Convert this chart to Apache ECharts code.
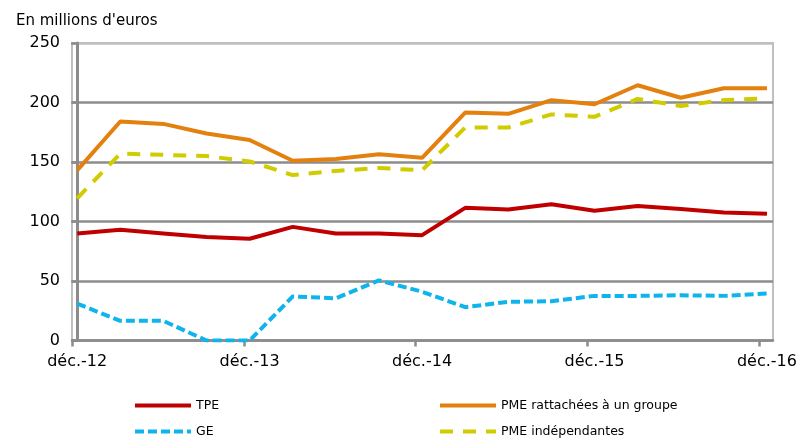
<!DOCTYPE html>
<html>
<head>
<meta charset="utf-8">
<script src="https://cdn.jsdelivr.net/npm/echarts@6/dist/echarts.min.js"></script>
<style>
  html, body { margin: 0; padding: 0; background: #fff; }
  #chart { width: 800px; height: 439px; }
</style>
</head>
<body>
<div id="chart"></div>
<script>
const chart = echarts.init(document.getElementById('chart'));

// quarterly points, déc.-12 .. déc.-16
const quarters = [0, 1, 2, 3, 4, 5, 6, 7, 8, 9, 10, 11, 12, 13, 14, 15, 16];
const yearLabels = ['déc.-12', 'déc.-13', 'déc.-14', 'déc.-15', 'déc.-16'];
const labelAt = [0, 4, 8, 12, 16];
const tickAt = [-0.12, 3.87, 7.85, 11.83, 15.82];

const tpe = [90, 93, 90, 87, 85.5, 95.5, 90, 90, 88.5, 111.5, 110, 114.5, 109, 113, 110.5, 107.5, 106.5];
const pmeGroupe = [143, 184, 182, 174, 168.5, 151, 152.5, 156.5, 153.5, 191.5, 190.5, 202, 198.5, 214.5, 204, 212, 212];
const ge = [31, 16.5, 16.5, 0, 0, 37, 35.5, 50.5, 41, 28, 32.5, 33, 37.5, 37.5, 38, 37.5, 39.5];
const pmeIndep = [119.5, 157, 156, 155, 150.5, 139, 142.5, 145, 143, 179, 179, 190, 188, 203, 197, 202, 203.5];

const pair = arr => arr.map((v, i) => [quarters[i], v]);
const font = 'DejaVu Sans';

// one legend per item so they sit in a 2x2 layout like the original
function legendItem(name, left, top) {
  return {
    left: left, top: top, padding: 0,
    itemWidth: 56, itemHeight: 14, itemGap: 0,
    itemStyle: { opacity: 0 },
    lineStyle: { width: 4 },
    textStyle: { fontFamily: font, fontSize: 12.5, color: '#000' },
    data: [name]
  };
}

chart.setOption({
  animation: false,
  title: {
    text: "En millions d'euros",
    left: 11, top: 9,
    textStyle: { fontFamily: font, fontSize: 15, fontWeight: 'normal', color: '#000' }
  },
  grid: {
    left: 72, right: 27, top: 43, bottom: 98.5,
    show: true, borderColor: '#c0c0c0', borderWidth: 2
  },
  legend: [
    legendItem('TPE', 133, 399),
    legendItem('GE', 133, 425),
    legendItem('PME rattachées à un groupe', 438, 399),
    legendItem('PME indépendantes', 438, 425)
  ],
  xAxis: {
    type: 'value',
    min: -0.12, max: 16.14,
    axisLine: { lineStyle: { color: '#8c8c8c', width: 2.5 } },
    axisTick: { show: true, customValues: tickAt, length: 6, lineStyle: { color: '#8c8c8c', width: 2.5 } },
    axisLabel: {
      customValues: labelAt, margin: 13,
      fontFamily: font, fontSize: 16, color: '#000',
      formatter: v => yearLabels[labelAt.indexOf(Math.round(v))] || ''
    },
    splitLine: { show: false }
  },
  yAxis: {
    type: 'value',
    min: 0, max: 250, interval: 50,
    axisLine: { show: true, lineStyle: { color: '#8c8c8c', width: 3 } },
    axisTick: { show: true, length: 6, lineStyle: { color: '#8c8c8c', width: 2.5 } },
    axisLabel: { margin: 12, fontFamily: font, fontSize: 16, color: '#000' },
    splitLine: { lineStyle: { color: ['#8c8c8c', '#8c8c8c', '#8c8c8c', '#8c8c8c', '#8c8c8c', '#c0c0c0'], width: 2.5 } }
  },
  series: [
    {
      name: 'TPE', type: 'line', symbol: 'none', data: pair(tpe),
      lineStyle: { color: '#c00000', width: 4 }, itemStyle: { color: '#c00000' }
    },
    {
      name: 'PME rattachées à un groupe', type: 'line', symbol: 'none', data: pair(pmeGroupe),
      lineStyle: { color: '#e3800e', width: 4 }, itemStyle: { color: '#e3800e' }
    },
    {
      name: 'GE', type: 'line', symbol: 'none', data: pair(ge),
      lineStyle: { color: '#10b4ec', width: 4, type: [9, 4] }, itemStyle: { color: '#10b4ec' }
    },
    {
      name: 'PME indépendantes', type: 'line', symbol: 'none', data: pair(pmeIndep),
      lineStyle: { color: '#d0cc00', width: 4, type: [13, 10] }, itemStyle: { color: '#d0cc00' }
    }
  ]
});

window.addEventListener('resize', () => chart.resize());
</script>
</body>
</html>
